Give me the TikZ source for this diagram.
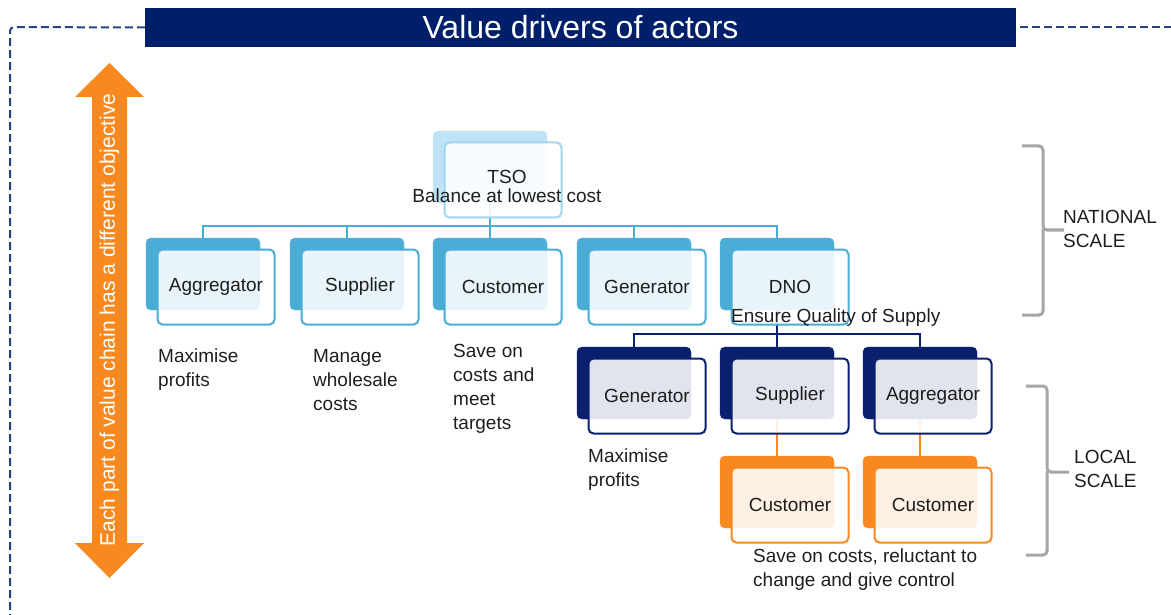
\documentclass[tikz,border=0pt]{standalone}
\usepackage{fontspec}
\setmainfont{Liberation Sans}
\usetikzlibrary{positioning,backgrounds}

\definecolor{navy}{RGB}{0,31,107}
\definecolor{framecol}{RGB}{40,66,130}
\definecolor{paleblue}{RGB}{190,227,246}
\definecolor{paleedge}{RGB}{160,213,240}
\definecolor{midblue}{RGB}{75,172,214}
\definecolor{darkbox}{RGB}{10,32,110}
\definecolor{orng}{RGB}{249,137,30}
\definecolor{bracegray}{RGB}{166,166,166}
\definecolor{ink}{RGB}{30,30,30}

\newcommand{\lbl}{\fontsize{19pt}{24pt}\selectfont}
\tikzset{
  backbox/.style={fill=#1, draw=#1, rounded corners=5pt, minimum width=114pt, minimum height=72pt, inner sep=0pt},
  frontbox/.style={fill=white, fill opacity=0.88, text opacity=1, draw=#1, line width=2pt, rounded corners=5pt, minimum width=117pt, minimum height=75pt, inner sep=0pt, text=ink, font=\lbl},
  drivertext/.style={anchor=north west, align=left, inner sep=0pt, text=ink, font=\lbl},
  tie/.style={draw=#1, line width=2.2pt},
  scalebrace/.style={draw=bracegray, line width=3pt, rounded corners=4pt},
  framedash/.style={draw=framecol, line width=2pt, dash pattern=on 8pt off 4pt, rounded corners=4pt}
}

\begin{document}
\begin{tikzpicture}[x=1pt, y=-1pt]
\useasboundingbox (0,0) rectangle (1171,615);

% title and frame
\node[fill=navy, text=white, minimum width=871pt, minimum height=39pt, inner sep=0pt, font=\fontsize{32pt}{36pt}\selectfont] (title) at (580.5,27.5) {Value drivers of actors};
\draw[framedash] (title.west) -- (10,27) -- (10,615);
\draw[framedash] ([xshift=4pt]title.east) -- (1171,27.5);

% objective arrow
\fill[orng] (109.5,63) -- (144,97) -- (127,97) -- (127,543) -- (144,543) -- (109.5,578) -- (75,543) -- (92,543) -- (92,97) -- (75,97) -- cycle;
\node[rotate=90, text=white, inner sep=0pt, font=\fontsize{21pt}{24pt}\selectfont] (goal) at (109.5,320) {Each part of value chain has a different objective};

% national scale
\node[backbox=paleblue] (tso) at (490,167) {};
\node[frontbox=paleedge] (tso-f) at (503,180) {};
\node[align=center, inner sep=0pt, text=ink, font=\fontsize{19pt}{19pt}\selectfont] (tso-txt) at (507,186) {TSO\\Balance at lowest cost};

\foreach \name/\x/\txt in {agg/203/Aggregator, sup/347/Supplier, cus/490/Customer, gen/634/Generator, dno/777/DNO} {
  \node[backbox=midblue] (\name) at (\x,274) {};
  \node[frontbox=midblue] (\name-f) at (\x+13,287) {\txt};
}
\node[drivertext, anchor=base west] (dno-txt) at (731,322) {Ensure Quality of Supply};

% local scale
\foreach \name/\x/\txt in {gen2/634/Generator, sup2/777/Supplier, agg2/920/Aggregator} {
  \node[backbox=darkbox] (\name) at (\x,383) {};
  \node[frontbox=darkbox] (\name-f) at (\x+13,396) {\txt};
}
\foreach \name/\x in {cus2/777, cus3/920} {
  \node[backbox=orng] (\name) at (\x,492) {};
  \node[frontbox=orng] (\name-f) at (\x+13,505) {Customer};
}

% connectors
\begin{pgfonlayer}{background}
\coordinate (bus1) at (490,226);
\foreach \name in {agg,sup,cus,gen,dno}
  \draw[tie=midblue] (tso.center) -- (bus1) -| (\name.center);
\coordinate (bus2) at (777,334);
\foreach \name in {gen2,sup2,agg2}
  \draw[tie=darkbox] (dno.center) -- (bus2) -| (\name.center);
\draw[tie=orng] (sup2.center) -- (cus2.center);
\draw[tie=orng] (agg2.center) -- (cus3.center);
\end{pgfonlayer}

% objectives
\node[drivertext] (agg-obj) at (158,349) {Maximise\\profits};
\node[drivertext] (sup-obj) at (313,349) {Manage\\wholesale\\costs};
\node[drivertext] (cus-obj) at (453,344) {Save on\\costs and\\meet\\targets};
\node[drivertext] (gen2-obj) at (588,449) {Maximise\\profits};
\node[drivertext] (cus-obj2) at (753,549) {Save on costs, reluctant to\\change and give control};

% scale braces
\draw[scalebrace] (1022,146) -| (1043,230) -- (1064,230);
\draw[scalebrace] (1043,229) |- (1022,315);
\coordinate (nat-tip) at (1063,210);
\node[drivertext] (nat-lbl) at (nat-tip) {NATIONAL\\SCALE};

\draw[scalebrace] (1026,386) -| (1047,472) -- (1069,472);
\draw[scalebrace] (1047,471) |- (1026,555);
\coordinate (loc-tip) at (1074,450);
\node[drivertext] (loc-lbl) at (loc-tip) {LOCAL\\SCALE};
\end{tikzpicture}
\end{document}
